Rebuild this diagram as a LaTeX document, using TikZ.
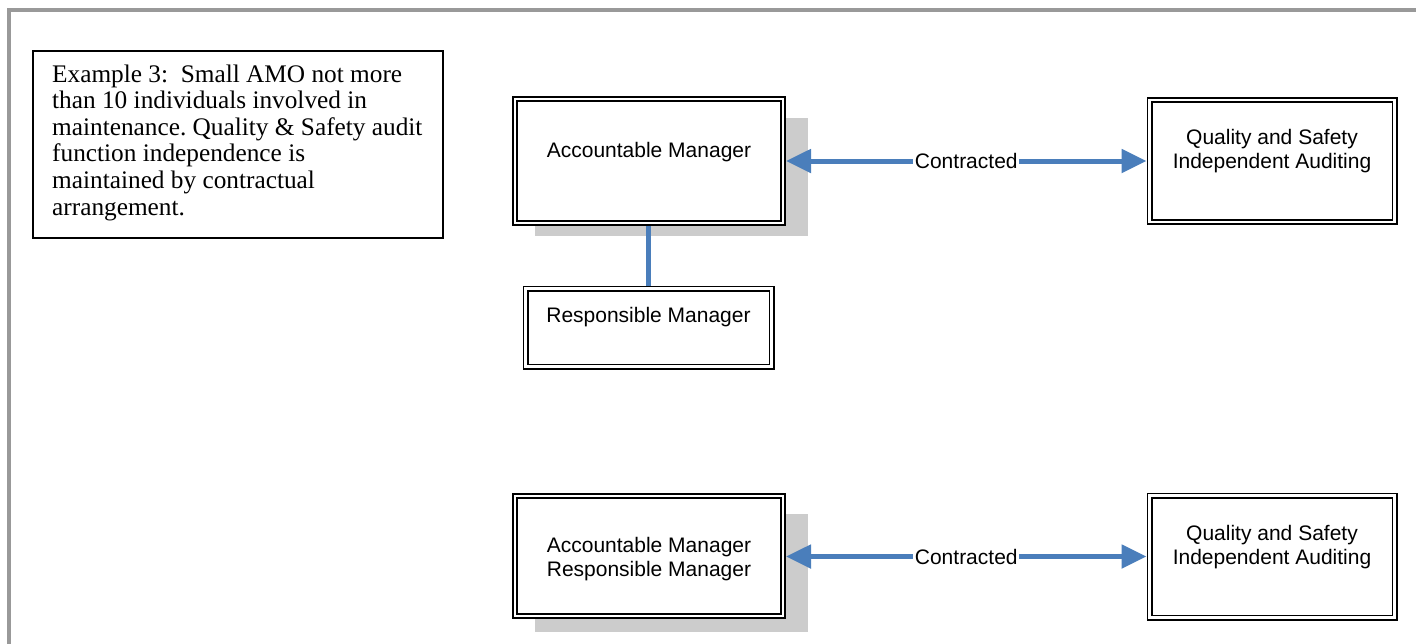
\documentclass[tikz,border=0pt]{standalone}
\usepackage{fontspec}
\setmainfont{Liberation Serif}
\setsansfont{Liberation Sans}
\usetikzlibrary{arrows.meta}
\definecolor{linkblue}{RGB}{74,126,187}
\definecolor{shade}{RGB}{204,204,204}
\definecolor{framegray}{RGB}{153,153,153}
\frenchspacing

\begin{document}
\begin{tikzpicture}[x=1pt,y=-1pt,
  dblbox/.style={rectangle, draw=black, double=white, double distance=2.4pt,
    line width=1.8pt, fill=white, inner sep=0pt, outer sep=3pt},
  boxtext/.style={font=\sffamily\fontsize{21}{24}\selectfont, align=center,
    inner sep=0pt, anchor=base},
  shadowbox/.style={fill=shade},
  link/.style={draw=linkblue, line width=5pt},
  contract/.style={link, {Triangle[length=25pt,width=23pt]}-{Triangle[length=25pt,width=23pt]}},
  linklabel/.style={font=\sffamily\fontsize{21}{24}\selectfont, fill=white,
    inner xsep=1.5pt, inner ysep=1pt},
  ]
\useasboundingbox (0,0) rectangle (1416,643);

% page frame
\draw[framegray, line width=4pt, line join=miter] (9,645) -- (9,10) -- (1418,10);

% explanatory note (multi-line nodes sit on the baseline of their last line)
\node[draw=black, line width=2pt, minimum width=410pt, minimum height=187pt,
  inner sep=0pt, outer sep=0pt, anchor=north west] (note) at (33,51) {};
\node[font=\fontsize{25.3}{26.6}\selectfont, align=left, anchor=base west,
  inner sep=0pt] (notetext) at (52,215)
  {Example 3:\ \ Small AMO not more\\
   than 10 individuals involved in\\
   maintenance. Quality \& Safety audit\\
   function independence is\\
   maintained by contractual\\
   arrangement.};

% drop shadows
\fill[shadowbox] (535,118) rectangle (808,236);
\fill[shadowbox] (535,514) rectangle (808,632);

% upper arrangement
\node[dblbox, minimum width=268pt, minimum height=124pt] (amtop) at (649,161) {};
\node[boxtext] (amtoptext) at (649,157) {Accountable Manager};
\node[dblbox, minimum width=245pt, minimum height=122pt] (qtop) at (1272,161) {};
\node[boxtext] (qtoptext) at (1272,168) {Quality and Safety\\Independent Auditing};
\node[dblbox, minimum width=246pt, minimum height=78pt] (resp) at (648.5,327.5) {};
\node[boxtext] (resptext) at (648.5,322) {Responsible Manager};

\draw[contract] (amtop.east) -- node[linklabel] (c1) {Contracted} (qtop.west);
\draw[link] (resp.north) -- (resp.north |- amtop.south);

% lower arrangement
\node[dblbox, minimum width=268pt, minimum height=120pt] (ambot) at (649,556) {};
\node[boxtext] (ambottext) at (649,576) {Accountable Manager\\Responsible Manager};
\node[dblbox, minimum width=245pt, minimum height=122pt] (qbot) at (1272,556.5) {};
\node[boxtext] (qbottext) at (1272,564) {Quality and Safety\\Independent Auditing};

\draw[contract] (qbot.west -| ambot.east) -- node[linklabel] (c2) {Contracted} (qbot.west);
\end{tikzpicture}
\end{document}
